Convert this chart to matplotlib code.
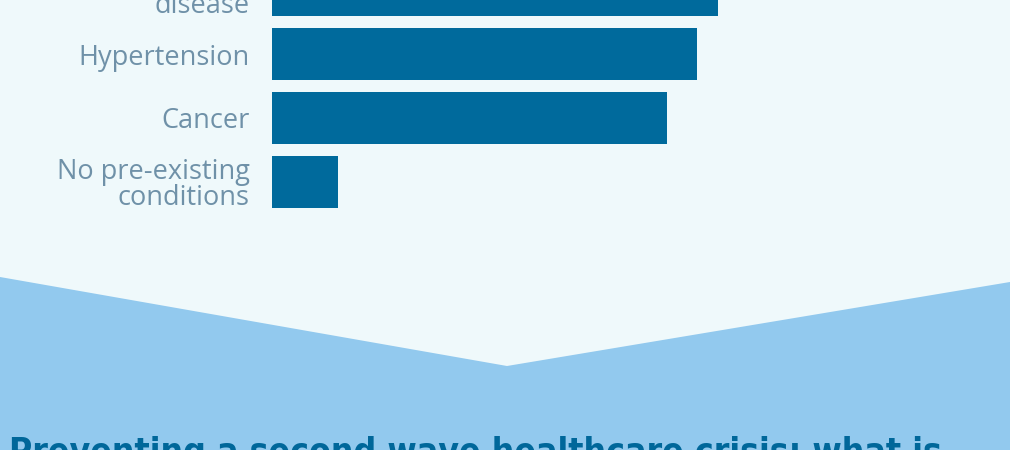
import matplotlib.pyplot as plt
from matplotlib.patches import Polygon

# data (top bar is cut off by the crop)
conditions = ["Heart\ndisease", "Hypertension", "Cancer", "No pre-existing\nconditions"]
share = [63.7, 60.7, 56.4, 9.4]

title = "Preventing a second wave healthcare crisis: what is"

BG = "#eff9fb"
BAR = "#006a9c"
LABEL = "#6f91a8"
BAND = "#92c9ee"
TITLE = "#00679a"

W, H = 1010, 450
fig = plt.figure(figsize=(W / 100, H / 100), dpi=100)
fig.patch.set_facecolor(BG)

# background layer in pixel coords: chevron band + cut-off headline
bg = fig.add_axes([0, 0, 1, 1])
bg.set_xlim(0, W)
bg.set_ylim(H, 0)
bg.axis("off")
bg.add_patch(Polygon([(0, 277), (507, 366), (W, 282), (W, H), (0, H)],
                     closed=True, facecolor=BAND, edgecolor="none"))
bg.text(9, 436, title, color=TITLE, fontsize=25.5, fontweight="bold",
        family="DejaVu Sans", fontstretch="condensed", va="top", ha="left")

# bar chart
ax = fig.add_axes([272 / W, 1 - 214 / H, 700 / W, 256 / H])
ax.set_facecolor("none")
ax.barh(range(len(conditions)), share, height=0.8125, color=BAR)
ax.set_xlim(0, 100)
ax.set_ylim(len(conditions) - 0.5, -0.5)
ax.set_yticks(range(len(conditions)))
ax.set_yticklabels(conditions, color=LABEL, fontsize=19.5, family="Open Sans",
                   linespacing=0.95)
ax.tick_params(axis="y", length=0, pad=16)
ax.set_xticks([])
for s in ax.spines.values():
    s.set_visible(False)

fig.savefig("out.png", dpi=100, facecolor=BG)
